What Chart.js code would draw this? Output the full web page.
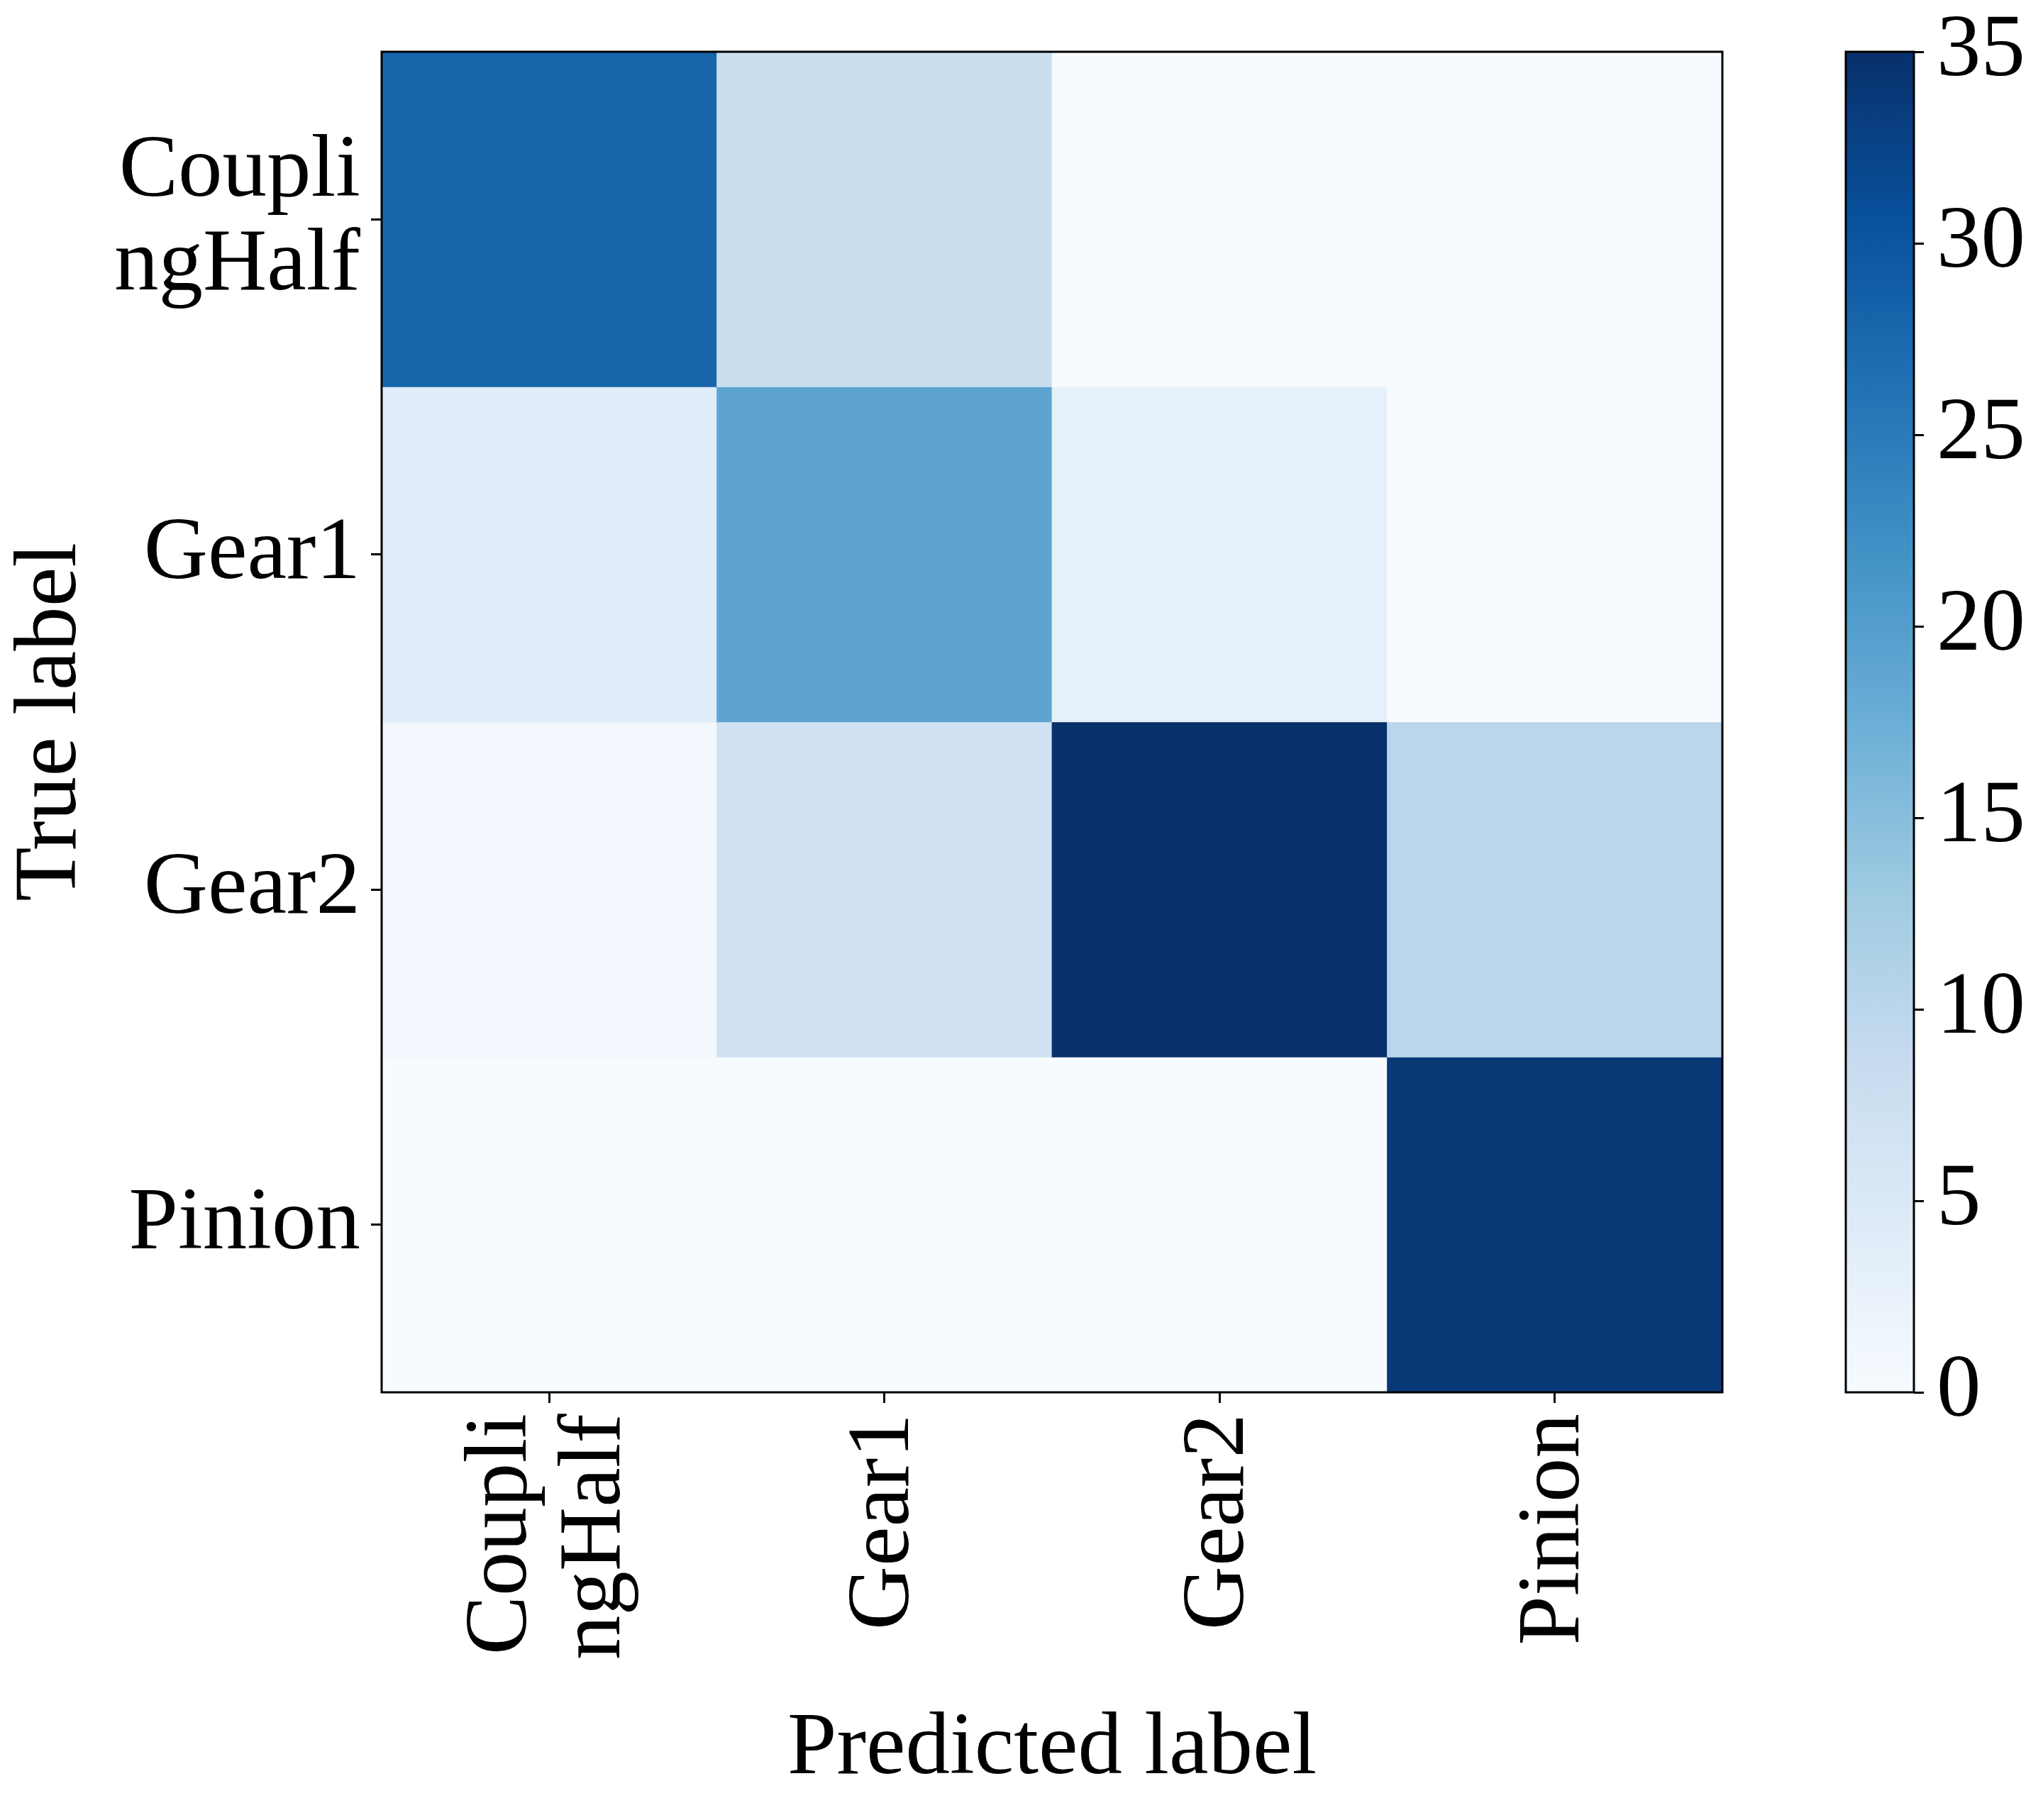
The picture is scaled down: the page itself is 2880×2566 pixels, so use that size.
<!DOCTYPE html>
<html>
<head>
<meta charset="utf-8">
<script src="https://cdn.jsdelivr.net/npm/chart.js@4.4.1/dist/chart.umd.min.js"></script>
<style>
  html, body { margin: 0; padding: 0; background: #fff; }
  #wrap { position: relative; width: 2880px; height: 2566px; }
  #matrix { position: absolute; left: 0; top: 0; width: 2560px; height: 2566px; }
  #cbar { position: absolute; left: 2560px; top: 0; width: 320px; height: 2566px; }
</style>
</head>
<body>
<div id="wrap">
  <div id="matrix"><canvas id="matrixChart"></canvas></div>
  <div id="cbar"><canvas id="cbarChart"></canvas></div>
</div>
<script>
// labels (multi-line ones are arrays)
const predLabels = [['Coupli', 'ngHalf'], 'Gear1', 'Gear2', 'Pinion']
const trueLabels = [['Coupli', 'ngHalf'], 'Gear1', 'Gear2', 'Pinion']

// confusion matrix rows (true label -> counts per predicted label)
const couplingHalfRow = [28, 8, 0, 0]
const gear1Row = [4, 19, 3, 0]
const gear2Row = [1, 7, 35, 10]
const pinionRow = [0, 0, 0, 34]

const colorbarTicks = [0, 5, 10, 15, 20, 25, 30, 35]
const vmin = 0
const vmax = 35

const counts = [couplingHalfRow, gear1Row, gear2Row, pinionRow]

// matplotlib "Blues"
const blues = ['#f7fbff', '#deebf7', '#c6dbef', '#9ecae1', '#6baed6', '#4292c6', '#2171b5', '#08519c', '#08306b']

function hexToRgb(h) {
    return [1, 3, 5].map(i => parseInt(h.substr(i, 2), 16))
}

function bluesAt(t) {
    t = Math.min(1, Math.max(0, t))
    const pos = t * (blues.length - 1)
    const i = Math.min(Math.floor(pos), blues.length - 2)
    const f = pos - i
    const a = hexToRgb(blues[i]), b = hexToRgb(blues[i + 1])
    const c = a.map((v, k) => Math.round(v + (b[k] - v) * f))
    return 'rgb(' + c.join(',') + ')'
}

Chart.defaults.font.family = "'Liberation Serif', 'Times New Roman', serif"
Chart.defaults.color = '#000'

const tickFont = { size: 125, lineHeight: 1.05 }
const titleFont = { size: 125, lineHeight: 1.1 }

const framePlugin = {
    id: 'frame',
    afterDraw(chart) {
        const { ctx, chartArea: a } = chart
        ctx.save()
        ctx.lineWidth = 3
        ctx.strokeStyle = '#000'
        ctx.strokeRect(a.left, a.top, a.right - a.left, a.bottom - a.top)
        ctx.restore()
    }
}

// center multi-line rotated x labels on their tick, like matplotlib does
const centerRotatedLines = {
    id: 'centerRotatedLines',
    beforeDraw(chart) {
        const s = chart.scales.x
        const items = s._computeLabelItems(chart.chartArea)
        items.forEach(it => {
            if (Array.isArray(it.label)) {
                it.textOffset -= (it.label.length - 1) * it.font.lineHeight / 2
            }
        })
        s._labelItems = items
    }
}

const matrixDatasets = counts.map((row, r) => ({
    label: Array.isArray(trueLabels[r]) ? trueLabels[r].join('') : trueLabels[r],
    data: row.map(() => [r - 0.5, r + 0.5]),
    backgroundColor: row.map(v => bluesAt((v - vmin) / (vmax - vmin))),
    borderWidth: 0,
    barPercentage: 1,
    categoryPercentage: 1,
    grouped: false,
}))

new Chart('matrixChart', {
    type: 'bar',
    data: { labels: predLabels, datasets: matrixDatasets },
    options: {
        responsive: true,
        maintainAspectRatio: false,
        animation: false,
        devicePixelRatio: 1,
        layout: { padding: { left: 0, top: 73, right: 132, bottom: 0 } },
        plugins: { legend: { display: false }, tooltip: { enabled: false } },
        scales: {
            x: {
                type: 'category',
                offset: true,
                border: { display: false },
                grid: { offset: false, drawOnChartArea: false, tickLength: 15, tickWidth: 3, tickColor: '#000' },
                ticks: { font: tickFont, color: '#000', minRotation: 90, maxRotation: 90, padding: 15, autoSkip: false },
                title: { display: true, text: 'Predicted label', color: '#000', font: titleFont, padding: { top: 0, bottom: 30 } },
                afterFit(s) { s.height = 603; s.paddingLeft = 0; s.paddingRight = 0 }
            },
            y: {
                type: 'linear',
                reverse: true,
                min: -0.5,
                max: 3.5,
                afterBuildTicks(s) { s.ticks = trueLabels.map((_, i) => ({ value: i })) },
                border: { display: false },
                grid: { drawOnChartArea: false, tickLength: 15, tickWidth: 3, tickColor: '#000' },
                ticks: { font: tickFont, color: '#000', padding: 15, callback: v => trueLabels[v] },
                title: { display: true, text: 'True label', color: '#000', font: titleFont, padding: { top: 4, bottom: 0 } },
                afterFit(s) { s.width = 538; s.paddingTop = 0; s.paddingBottom = 0 }
            }
        }
    },
    plugins: [centerRotatedLines, framePlugin]
})

new Chart('cbarChart', {
    type: 'bar',
    data: {
        labels: [''],
        datasets: [{
            data: [[vmin, vmax]],
            backgroundColor(context) {
                const chart = context.chart
                const y = chart.scales.y
                if (!chart.chartArea || !y) return blues[0]
                const y0 = y.getPixelForValue(vmin), y1 = y.getPixelForValue(vmax)
                if (!isFinite(y0) || !isFinite(y1)) return blues[0]
                const g = chart.ctx.createLinearGradient(0, y0, 0, y1)
                blues.forEach((c, i) => g.addColorStop(i / (blues.length - 1), c))
                return g
            },
            borderWidth: 0,
            barPercentage: 1,
            categoryPercentage: 1,
        }]
    },
    options: {
        responsive: true,
        maintainAspectRatio: false,
        animation: false,
        devicePixelRatio: 1,
        layout: { padding: { left: 42, top: 73, right: 0, bottom: 603 } },
        plugins: { legend: { display: false }, tooltip: { enabled: false } },
        scales: {
            x: { display: false },
            y: {
                position: 'right',
                min: vmin,
                max: vmax,
                afterBuildTicks(s) { s.ticks = colorbarTicks.map(v => ({ value: v })) },
                border: { display: false },
                grid: { drawOnChartArea: false, tickLength: 14, tickWidth: 3, tickColor: '#000' },
                ticks: { font: tickFont, color: '#000', padding: 18 },
                afterFit(s) { s.width = 182; s.paddingTop = 0; s.paddingBottom = 0 }
            }
        }
    },
    plugins: [framePlugin]
})
</script>
</body>
</html>
